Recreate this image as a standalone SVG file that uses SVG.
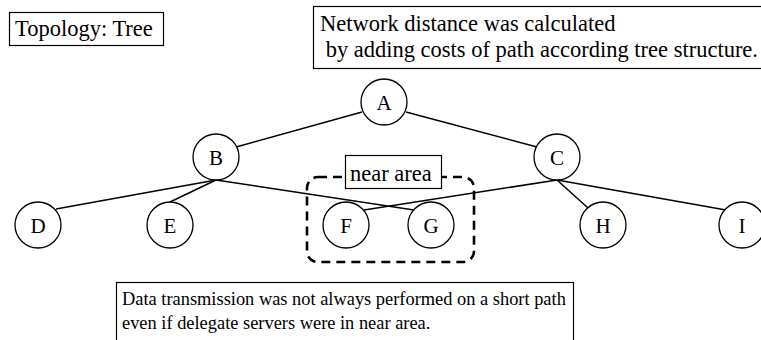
<svg xmlns="http://www.w3.org/2000/svg" width="761" height="340" viewBox="0 0 761 340" font-family="'Liberation Serif', 'Times New Roman', Times, 'DejaVu Serif', serif">
  <style>
    .box { fill: #ffffff; stroke: #000000; stroke-width: 1.2; }
    .txt { font-family: 'Liberation Serif', 'Times New Roman', Times, 'DejaVu Serif', serif; font-size: 22.5px; fill: #000000; }
    .small { font-size: 18.4px; }
    .node circle { fill: #ffffff; stroke: #000000; stroke-width: 1.3; }
    .node text { font-family: 'Liberation Serif', 'Times New Roman', Times, 'DejaVu Serif', serif; font-size: 21px; text-anchor: middle; fill: #000000; }
    .edge { stroke: #000000; stroke-width: 1.5; fill: none; }
    .area { fill: none; stroke: #000000; stroke-width: 2.6; stroke-dasharray: 9 6; }
  </style>
  <rect width="761" height="340" fill="#ffffff"/>

  <!-- captions -->
  <g id="caption-topology">
    <rect class="box" x="9.5" y="12.5" width="154" height="33"/>
    <text class="txt" x="15" y="36">Topology: Tree</text>
  </g>
  <g id="caption-distance">
    <rect class="box" x="313.5" y="6.5" width="460" height="62"/>
    <text class="txt" x="320" y="31">Network distance was calculated</text>
    <text class="txt" x="320" y="57" xml:space="preserve"> by adding costs of path according tree structure.</text>
  </g>

  <!-- tree edges -->
  <g id="connectors">
    <line class="edge" x1="362" y1="112" x2="236" y2="147"/>
    <line class="edge" x1="406" y1="112" x2="537" y2="147"/>
    <line class="edge" x1="216" y1="180" x2="56" y2="209"/>
    <line class="edge" x1="216" y1="180" x2="170" y2="202"/>
    <line class="edge" x1="216" y1="180" x2="414" y2="210"/>
    <line class="edge" x1="557" y1="180" x2="364" y2="210"/>
    <line class="edge" x1="557" y1="180" x2="588" y2="208"/>
    <line class="edge" x1="557" y1="180" x2="726" y2="210"/>
  </g>

  <!-- near area grouping -->
  <g id="near-area">
    <rect class="area" x="307" y="177" width="167" height="85" rx="11" ry="11"/>
    <rect class="box" x="345.5" y="155.5" width="96" height="33"/>
    <text class="txt" x="350" y="181">near area</text>
  </g>

  <!-- nodes -->
  <g id="node-A" class="node"><circle cx="384" cy="102" r="23"/><text x="384" y="110">A</text></g>
  <g id="node-B" class="node"><circle cx="216" cy="157" r="23"/><text x="216" y="165">B</text></g>
  <g id="node-C" class="node"><circle cx="557" cy="157" r="23"/><text x="557" y="165">C</text></g>
  <g id="node-D" class="node"><circle cx="38" cy="225" r="23"/><text x="38" y="233">D</text></g>
  <g id="node-E" class="node"><circle cx="170" cy="225" r="23"/><text x="170" y="233">E</text></g>
  <g id="node-F" class="node"><circle cx="346" cy="225" r="23"/><text x="346" y="233">F</text></g>
  <g id="node-G" class="node"><circle cx="431" cy="225" r="23"/><text x="431" y="233">G</text></g>
  <g id="node-H" class="node"><circle cx="603" cy="225" r="23"/><text x="603" y="233">H</text></g>
  <g id="node-I" class="node"><circle cx="742" cy="225" r="23"/><text x="742" y="233">I</text></g>

  <!-- bottom note -->
  <g id="caption-transmission">
    <rect class="box" x="116.5" y="282.5" width="457" height="70"/>
    <text class="txt small" x="122" y="305">Data transmission was not always performed on a short path</text>
    <text class="txt small" x="122" y="329">even if delegate servers were in near area.</text>
  </g>
</svg>
